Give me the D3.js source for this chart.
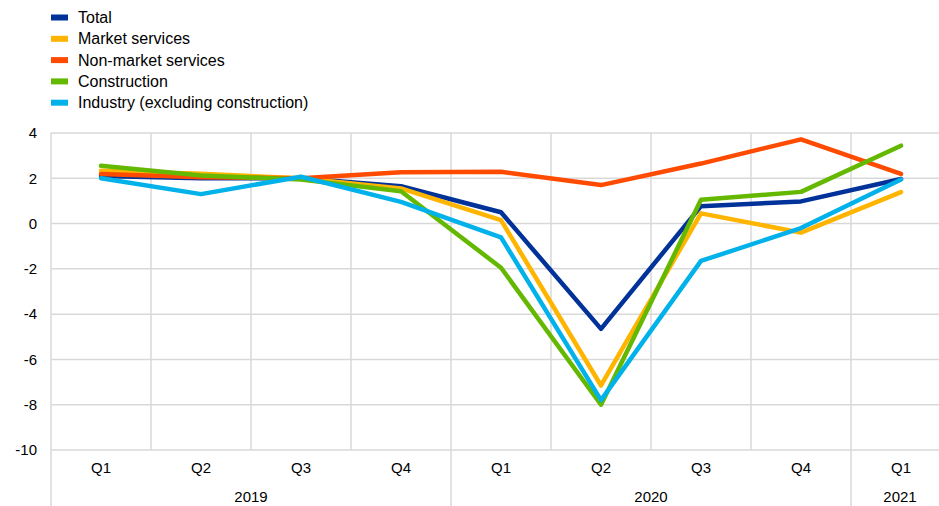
<!DOCTYPE html>
<html>
<head>
<meta charset="utf-8">
<script src="https://cdn.jsdelivr.net/npm/d3@7"></script>
<style>
  html, body { margin: 0; padding: 0; background: #fff; overflow: hidden; }
  svg { display: block; font-family: "Liberation Sans", Arial, sans-serif; }
</style>
</head>
<body>
<svg id="chart" width="939" height="506"></svg>
<script>
// Quarterly categories with their years
const quarters = ["Q1", "Q2", "Q3", "Q4", "Q1", "Q2", "Q3", "Q4", "Q1"];
const years = [
  { label: "2019", start: 0, end: 4 },
  { label: "2020", start: 4, end: 8 },
  { label: "2021", start: 8, end: 9 }
];
const yTicks = [4, 2, 0, -2, -4, -6, -8, -10];

// Series values (percentage changes)
const total        = [2.1, 2.0, 2.0, 1.65, 0.5, -4.65, 0.77, 0.98, 1.97];
const marketSvc    = [2.33, 2.2, 2.0, 1.55, 0.15, -7.15, 0.45, -0.4, 1.39];
const nonMarketSvc = [2.19, 2.05, 2.0, 2.27, 2.29, 1.7, 2.65, 3.72, 2.19];
const construction = [2.55, 2.12, 1.95, 1.43, -1.95, -8.0, 1.05, 1.4, 3.44];
const industry     = [2.0, 1.3, 2.07, 0.96, -0.61, -7.8, -1.65, -0.2, 1.95];

const seriesNames  = ["Total", "Market services", "Non-market services", "Construction", "Industry (excluding construction)"];
const seriesValues = [total, marketSvc, nonMarketSvc, construction, industry];
const seriesColors = ["#003299", "#ffb400", "#ff4b00", "#65b800", "#00b1ea"];

const svg = d3.select("#chart");

const x = d3.scaleBand().domain(d3.range(quarters.length)).range([51, 951]);
const y = d3.scaleLinear().domain([-10, 4]).range([450, 133]);

const grid = "#d9d9d9";

// Horizontal gridlines
svg.append("g").selectAll("line").data(yTicks).join("line")
  .attr("x1", x.range()[0]).attr("x2", x.range()[1])
  .attr("y1", d => y(d)).attr("y2", d => y(d))
  .attr("stroke", grid).attr("stroke-width", 1.5);

// Vertical gridlines between quarters
svg.append("g").selectAll("line").data(d3.range(quarters.length + 1)).join("line")
  .attr("x1", i => x.range()[0] + i * x.step()).attr("x2", i => x.range()[0] + i * x.step())
  .attr("y1", y(4)).attr("y2", y(-10))
  .attr("stroke", grid).attr("stroke-width", 1.5);

// Year separators extending below the axis
svg.append("g").selectAll("line").data(years).join("line")
  .attr("x1", d => x.range()[0] + d.start * x.step()).attr("x2", d => x.range()[0] + d.start * x.step())
  .attr("y1", y(-10)).attr("y2", 506)
  .attr("stroke", grid).attr("stroke-width", 1.5);

// Y axis labels
svg.append("g").selectAll("text").data(yTicks).join("text")
  .attr("x", 37).attr("y", d => y(d)).attr("dy", "0.35em")
  .attr("text-anchor", "end").attr("font-size", 15).attr("fill", "#000")
  .text(d => d);

// Quarter labels
svg.append("g").selectAll("text").data(quarters).join("text")
  .attr("x", (d, i) => x(i) + x.bandwidth() / 2).attr("y", 468).attr("dy", "0.35em")
  .attr("text-anchor", "middle").attr("font-size", 15).attr("fill", "#000")
  .text(d => d);

// Year labels
svg.append("g").selectAll("text").data(years).join("text")
  .attr("x", d => Math.min(x.range()[0] + (d.start + d.end) / 2 * x.step(), 900))
  .attr("y", 497).attr("dy", "0.35em")
  .attr("text-anchor", "middle").attr("font-size", 15).attr("fill", "#000")
  .text(d => d.label);

// Lines
const line = d3.line().x((d, i) => x(i) + x.bandwidth() / 2).y(d => y(d));
svg.append("g").selectAll("path").data(seriesValues).join("path")
  .attr("d", d => line(d))
  .attr("fill", "none")
  .attr("stroke", (d, i) => seriesColors[i])
  .attr("stroke-width", 4.5)
  .attr("stroke-linejoin", "round")
  .attr("stroke-linecap", "round");

// Legend
const legend = svg.append("g").selectAll("g").data(seriesNames).join("g")
  .attr("transform", (d, i) => `translate(51, ${17.5 + i * 21.3})`);
legend.append("rect")
  .attr("x", 0).attr("y", -3).attr("width", 17).attr("height", 6)
  .attr("fill", (d, i) => seriesColors[i]);
legend.append("text")
  .attr("x", 27).attr("y", 0).attr("dy", "0.35em")
  .attr("font-size", 16).attr("fill", "#000")
  .text(d => d);
</script>
</body>
</html>
